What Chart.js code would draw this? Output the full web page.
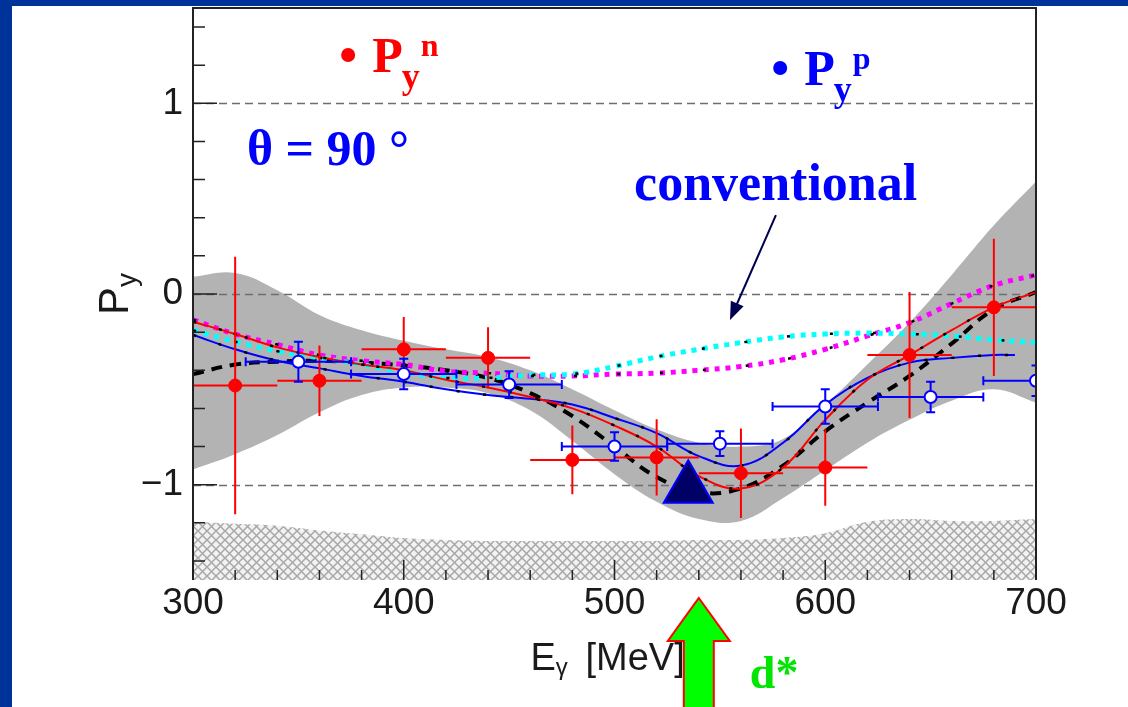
<!DOCTYPE html>
<html>
<head>
<meta charset="utf-8">
<script src="https://cdn.jsdelivr.net/npm/chart.js@4.4.0/dist/chart.umd.min.js"></script>
<style>
  html, body { margin: 0; padding: 0; background: #fff; }
</style>
</head>
<body>
<canvas id="myChart" width="1128" height="707"></canvas>
<script>
'use strict';

// Data (E_gamma in MeV, P_y)

let curveEnergies = [300, 320, 340, 360, 380, 400, 420, 440, 460, 480, 500, 520, 540, 560, 580, 600, 620, 640, 660, 680, 700];
let bandUpper = [0.09, 0.11, 0.02, -0.11, -0.19, -0.245, -0.29, -0.33, -0.40, -0.50, -0.61, -0.71, -0.78, -0.80, -0.76, -0.58, -0.37, -0.15, 0.10, 0.36, 0.59];
let bandLower = [-0.92, -0.84, -0.74, -0.62, -0.53, -0.49, -0.49, -0.52, -0.61, -0.77, -0.945, -1.09, -1.18, -1.19, -1.07, -0.925, -0.78, -0.66, -0.56, -0.50, -0.57];
let systematicTop = [-1.195, -1.205, -1.215, -1.24, -1.26, -1.28, -1.29, -1.295, -1.295, -1.295, -1.295, -1.295, -1.29, -1.29, -1.28, -1.255, -1.195, -1.18, -1.19, -1.19, -1.18];
let modelBlackDashed = [-0.42, -0.37, -0.355, -0.35, -0.36, -0.375, -0.40, -0.44, -0.52, -0.64, -0.80, -0.96, -1.04, -1.02, -0.90, -0.72, -0.57, -0.43, -0.26, -0.08, 0.01];
let modelRed = [-0.145, -0.21, -0.28, -0.33, -0.37, -0.40, -0.45, -0.49, -0.54, -0.60, -0.69, -0.80, -0.955, -1.02, -0.91, -0.66, -0.45, -0.32, -0.19, -0.07, 0.01];
let modelBlueEnergies = [300, 320, 340, 360, 380, 400, 420, 440, 460, 480, 500, 520, 540, 560, 580, 600, 620, 640, 660, 680, 690];
let modelBlue = [-0.215, -0.29, -0.35, -0.39, -0.43, -0.46, -0.50, -0.53, -0.55, -0.58, -0.65, -0.73, -0.85, -0.90, -0.78, -0.58, -0.44, -0.36, -0.335, -0.32, -0.32];
let modelCyan = [-0.19, -0.25, -0.30, -0.335, -0.37, -0.41, -0.44, -0.44, -0.425, -0.42, -0.38, -0.33, -0.29, -0.255, -0.225, -0.21, -0.205, -0.21, -0.22, -0.24, -0.255];
let modelMagenta = [-0.135, -0.21, -0.265, -0.32, -0.35, -0.37, -0.405, -0.415, -0.43, -0.43, -0.42, -0.415, -0.40, -0.38, -0.345, -0.29, -0.22, -0.15, -0.05, 0.045, 0.10];

let neutronEnergies = [320, 360, 400, 440, 480, 520, 560, 600, 640, 680];
let neutronPy = [-0.48, -0.455, -0.29, -0.335, -0.87, -0.857, -0.94, -0.91, -0.32, -0.07];
let neutronEnergyErr = [20, 20, 20, 20, 20, 20, 20, 20, 20, 20];
let neutronPyErr = [0.675, 0.185, 0.17, 0.16, 0.18, 0.2, 0.235, 0.2, 0.33, 0.36];

let protonEnergies = [350, 400, 450, 500, 550, 600, 650, 700];
let protonPy = [-0.355, -0.42, -0.475, -0.80, -0.785, -0.59, -0.54, -0.455];
let protonEnergyErr = [25, 25, 25, 25, 25, 25, 25, 25];
let protonPyErr = [0.105, 0.08, 0.07, 0.075, 0.065, 0.09, 0.08, 0.08];

let dStarEnergy = [535];
let dStarPy = [-1.02];

let xTickLabels = [300, 400, 500, 600, 700];
let yTickLabels = [-1, 0, 1];

// helpers

function toPoints(xs, ys) {
  return xs.map((x, i) => ({ x: x, y: ys[i] }));
}

function makeHatchPattern(ctx) {
  let c = document.createElement('canvas');
  c.width = 9;
  c.height = 9;
  let p = c.getContext('2d');
  p.fillStyle = '#f2f2f2';
  p.fillRect(0, 0, 9, 9);
  p.strokeStyle = '#a8a8a8';
  p.lineWidth = 1.5;
  p.beginPath();
  p.moveTo(0, 0); p.lineTo(9, 9);
  p.moveTo(9, 0); p.lineTo(0, 9);
  p.stroke();
  return ctx.createPattern(c, 'repeat');
}

function curve(data, color, width, dash, order) {
  return {
    data: data,
    showLine: true,
    borderColor: color,
    borderWidth: width,
    borderDash: dash,
    pointRadius: 0,
    tension: 0.4,
    fill: false,
    order: order
  };
}

function drawErrorBars(chart, xs, ys, dxs, dys, color, cap) {
  let ctx = chart.ctx;
  let xScale = chart.scales.x;
  let yScale = chart.scales.y;
  let area = chart.chartArea;
  ctx.save();
  ctx.beginPath();
  ctx.rect(area.left, area.top, area.right - area.left, area.bottom - area.top);
  ctx.clip();
  ctx.strokeStyle = color;
  ctx.lineWidth = 2;
  for (let i = 0; i < xs.length; i++) {
    let x0 = xScale.getPixelForValue(xs[i] - dxs[i]);
    let x1 = xScale.getPixelForValue(xs[i] + dxs[i]);
    let xc = xScale.getPixelForValue(xs[i]);
    let y0 = yScale.getPixelForValue(ys[i] - dys[i]);
    let y1 = yScale.getPixelForValue(ys[i] + dys[i]);
    let yc = yScale.getPixelForValue(ys[i]);
    ctx.beginPath();
    ctx.moveTo(x0, yc); ctx.lineTo(x1, yc);
    ctx.moveTo(xc, y0); ctx.lineTo(xc, y1);
    if (cap) {
      ctx.moveTo(x0, yc - cap); ctx.lineTo(x0, yc + cap);
      ctx.moveTo(x1, yc - cap); ctx.lineTo(x1, yc + cap);
      ctx.moveTo(xc - cap, y0); ctx.lineTo(xc + cap, y0);
      ctx.moveTo(xc - cap, y1); ctx.lineTo(xc + cap, y1);
    }
    ctx.stroke();
  }
  ctx.restore();
}

function drawPolLabel(ctx, x, y, sup, color) {
  ctx.fillStyle = color;
  ctx.beginPath();
  ctx.arc(x - 24, y - 17, 7, 0, 2 * Math.PI);
  ctx.fill();
  ctx.textAlign = 'left';
  ctx.textBaseline = 'alphabetic';
  ctx.font = 'bold 50px "Liberation Serif"';
  ctx.fillText('P', x, y);
  let w = ctx.measureText('P').width;
  ctx.font = 'bold 36px "Liberation Serif"';
  ctx.fillText('y', x + w - 1, y + 16);
  let wy = ctx.measureText('y').width;
  ctx.font = 'bold 32px "Liberation Serif"';
  ctx.fillText(sup, x + w + wy, y - 16);
}

// plugin: background frame, grid, ticks, titles and notes

const BAND_INDEX = 0;
const NEUTRON_INDEX = 12;
const PROTON_INDEX = 13;

let decorPlugin = {
  id: 'decor',
  beforeDraw(chart) {
    let ctx = chart.ctx;
    ctx.save();
    ctx.fillStyle = '#ffffff';
    ctx.fillRect(0, 0, chart.width, chart.height);
    ctx.fillStyle = '#003399';
    ctx.fillRect(0, 0, 12, chart.height);
    ctx.fillRect(0, 0, chart.width, 6);
    ctx.restore();
  },
  afterDatasetDraw(chart, args) {
    if (args.index !== BAND_INDEX) return;
    let ctx = chart.ctx;
    let area = chart.chartArea;
    ctx.save();
    ctx.strokeStyle = '#6e6e6e';
    ctx.lineWidth = 1.6;
    ctx.setLineDash([8, 5]);
    yTickLabels.forEach(v => {
      let y = Math.round(chart.scales.y.getPixelForValue(v)) + 0.5;
      ctx.beginPath();
      ctx.moveTo(area.left, y);
      ctx.lineTo(area.right, y);
      ctx.stroke();
    });
    ctx.restore();
  },
  beforeDatasetDraw(chart, args) {
    if (args.index === NEUTRON_INDEX) {
      drawErrorBars(chart, neutronEnergies, neutronPy, neutronEnergyErr, neutronPyErr, '#ff0000', 0);
    } else if (args.index === PROTON_INDEX) {
      drawErrorBars(chart, protonEnergies, protonPy, protonEnergyErr, protonPyErr, '#0000ff', 4.5);
    }
  },
  afterDraw(chart) {
    let ctx = chart.ctx;
    let area = chart.chartArea;
    let xScale = chart.scales.x;
    let yScale = chart.scales.y;
    ctx.save();

    // frame
    ctx.strokeStyle = '#222';
    ctx.lineWidth = 2;
    ctx.beginPath();
    ctx.moveTo(area.left, area.bottom);
    ctx.lineTo(area.left, area.top);
    ctx.lineTo(area.right, area.top);
    ctx.lineTo(area.right, area.bottom);
    ctx.stroke();

    // inner tick marks
    ctx.lineWidth = 1.5;
    ctx.beginPath();
    for (let k = -7; k <= 7; k++) {
      let y = yScale.getPixelForValue(k * 0.2);
      let len = k % 5 === 0 ? 24 : 12;
      ctx.moveTo(area.left, y);
      ctx.lineTo(area.left + len, y);
    }
    for (let e = xScale.min; e <= xScale.max; e += 20) {
      let x = xScale.getPixelForValue(e);
      let len = e % 100 === 0 ? 20 : 10;
      ctx.moveTo(x, area.bottom);
      ctx.lineTo(x, area.bottom - len);
    }
    ctx.stroke();

    // y title  P_y (rotated)
    ctx.fillStyle = '#1a1a1a';
    ctx.textAlign = 'left';
    ctx.textBaseline = 'alphabetic';
    ctx.save();
    ctx.translate(area.left - 65, (area.top + area.bottom) / 2 + 21);
    ctx.rotate(-Math.PI / 2);
    ctx.font = '42px "Liberation Sans"';
    ctx.fillText('P', 0, 0);
    let pw = ctx.measureText('P').width;
    ctx.font = '28px "Liberation Sans"';
    ctx.fillText('y', pw, 8);
    ctx.restore();

    // x title  E_gamma [MeV]
    let tx = (area.left + area.right) / 2 - 84;
    let ty = area.bottom + 90;
    ctx.font = '38px "Liberation Sans"';
    ctx.fillText('E', tx, ty);
    let ew = ctx.measureText('E').width;
    ctx.font = '24px "Liberation Sans"';
    ctx.fillText('\u03b3', tx + ew, ty + 5);
    ctx.font = '38px "Liberation Sans"';
    ctx.fillText('[MeV]', tx + 55, ty);

    // legend-like labels
    drawPolLabel(ctx, xScale.getPixelForValue(385), yScale.getPixelForValue(1.164), 'n', '#ff0000');
    drawPolLabel(ctx, xScale.getPixelForValue(590), yScale.getPixelForValue(1.096), 'p', '#0000ff');

    ctx.fillStyle = '#0000ff';
    ctx.font = 'bold 50px "Liberation Serif"';
    ctx.fillText('\u03b8 = 90 \u00b0', xScale.getPixelForValue(325.6), yScale.getPixelForValue(0.677));
    ctx.font = 'bold 52px "Liberation Serif"';
    ctx.fillText('conventional', xScale.getPixelForValue(509.3), yScale.getPixelForValue(0.493));

    // pointer to the conventional curves
    let ax0 = xScale.getPixelForValue(576.6), ay0 = yScale.getPixelForValue(0.414);
    let ax1 = xScale.getPixelForValue(554.8), ay1 = yScale.getPixelForValue(-0.136);
    let ang = Math.atan2(ay1 - ay0, ax1 - ax0);
    ctx.strokeStyle = '#000050';
    ctx.fillStyle = '#000050';
    ctx.lineWidth = 2;
    ctx.beginPath();
    ctx.moveTo(ax0, ay0);
    ctx.lineTo(ax1 - 10 * Math.cos(ang), ay1 - 10 * Math.sin(ang));
    ctx.stroke();
    ctx.beginPath();
    ctx.moveTo(ax1, ay1);
    ctx.lineTo(ax1 - 18 * Math.cos(ang) + 7 * Math.sin(ang), ay1 - 18 * Math.sin(ang) - 7 * Math.cos(ang));
    ctx.lineTo(ax1 - 18 * Math.cos(ang) - 7 * Math.sin(ang), ay1 - 18 * Math.sin(ang) + 7 * Math.cos(ang));
    ctx.closePath();
    ctx.fill();

    // green d* arrow below the axis
    let gx = xScale.getPixelForValue(540);
    let gTip = area.bottom + 18;
    let gBase = area.bottom + 61;
    ctx.beginPath();
    ctx.moveTo(gx, gTip);
    ctx.lineTo(gx + 31, gBase);
    ctx.lineTo(gx + 15, gBase);
    ctx.lineTo(gx + 15, chart.height + 5);
    ctx.lineTo(gx - 15, chart.height + 5);
    ctx.lineTo(gx - 15, gBase);
    ctx.lineTo(gx - 31, gBase);
    ctx.closePath();
    ctx.fillStyle = '#00ff00';
    ctx.fill();
    ctx.strokeStyle = '#ff0000';
    ctx.lineWidth = 2;
    ctx.stroke();

    ctx.fillStyle = '#00e600';
    ctx.font = 'bold 46px "Liberation Serif"';
    ctx.fillText('d*', gx + 51, area.bottom + 108);

    ctx.restore();
  }
};

// chart

let canvas = document.getElementById('myChart');
let ctx = canvas.getContext('2d');
let hatch = makeHatchPattern(ctx);
let tickFont = { family: 'Liberation Sans', size: 37 };

let datasets = [
  {
    data: toPoints(curveEnergies, bandUpper),
    showLine: true, borderWidth: 0, pointRadius: 0, tension: 0.4,
    fill: '+1', backgroundColor: '#b3b3b3', order: 20
  },
  {
    data: toPoints(curveEnergies, bandLower),
    showLine: true, borderWidth: 0, pointRadius: 0, tension: 0.4,
    fill: false, order: 21
  },
  {
    data: toPoints(curveEnergies, systematicTop),
    showLine: true, borderWidth: 0, pointRadius: 0, tension: 0.4,
    fill: 'start', backgroundColor: hatch, order: 19
  },
  curve(toPoints(curveEnergies, modelBlackDashed), '#000000', 4, [11, 8], 8),
  curve(toPoints(curveEnergies, modelMagenta), '#ff00ff', 5, [5, 6], 7),
  curve(toPoints(curveEnergies, modelCyan), '#00ffff', 5, [5, 6], 6),
  curve(toPoints(curveEnergies, modelRed), '#ff0000', 2, [], 5),
  curve(toPoints(modelBlueEnergies, modelBlue), '#0000ff', 2, [], 5),
  curve(toPoints(curveEnergies, modelRed), '#000000', 2.5, [3, 24], 4),
  curve(toPoints(modelBlueEnergies, modelBlue), '#000000', 2.5, [3, 24], 4),
  curve(toPoints(curveEnergies, modelCyan), '#000000', 2.5, [3, 40], 4),
  curve(toPoints(curveEnergies, modelMagenta), '#000000', 2.5, [3, 40], 4),
  {
    data: toPoints(neutronEnergies, neutronPy),
    pointRadius: 6.5, pointStyle: 'circle',
    backgroundColor: '#ff0000', borderColor: '#ff0000', borderWidth: 1, order: 2
  },
  {
    data: toPoints(protonEnergies, protonPy),
    pointRadius: 6, pointStyle: 'circle',
    backgroundColor: '#ffffff', borderColor: '#0000ff', borderWidth: 2, order: 1
  },
  {
    data: toPoints(dStarEnergy, dStarPy),
    pointRadius: 28.3, pointStyle: 'triangle',
    backgroundColor: '#000066', borderColor: '#0000ff', borderWidth: 2, order: 0
  }
];

new Chart(ctx, {
  type: 'scatter',
  data: { datasets: datasets },
  options: {
    responsive: false,
    animation: false,
    devicePixelRatio: 1,
    layout: { autoPadding: false, padding: { left: 0, right: 92, top: 8, bottom: 0 } },
    plugins: { legend: { display: false }, tooltip: { enabled: false } },
    scales: {
      x: {
        type: 'linear',
        min: 300,
        max: 700,
        grid: { display: false, drawTicks: false },
        border: { display: false },
        ticks: { font: tickFont, color: '#1a1a1a', padding: 2, maxRotation: 0, autoSkip: false },
        afterBuildTicks(scale) {
          scale.ticks = xTickLabels.map(v => ({ value: v }));
        },
        afterFit(scale) {
          scale.height = 127;
          scale.paddingLeft = 0;
          scale.paddingRight = 0;
        }
      },
      y: {
        type: 'linear',
        min: -1.5,
        max: 1.5,
        grid: { display: false, drawTicks: false },
        border: { display: false },
        ticks: {
          font: tickFont,
          color: '#1a1a1a',
          padding: 10,
          callback: v => (v < 0 ? '\u2212' + Math.abs(v) : String(v))
        },
        afterBuildTicks(scale) {
          scale.ticks = yTickLabels.map(v => ({ value: v }));
        },
        afterFit(scale) {
          scale.width = 193;
          scale.paddingTop = 0;
          scale.paddingBottom = 0;
        }
      }
    }
  },
  plugins: [decorPlugin]
});
</script>
</body>
</html>
